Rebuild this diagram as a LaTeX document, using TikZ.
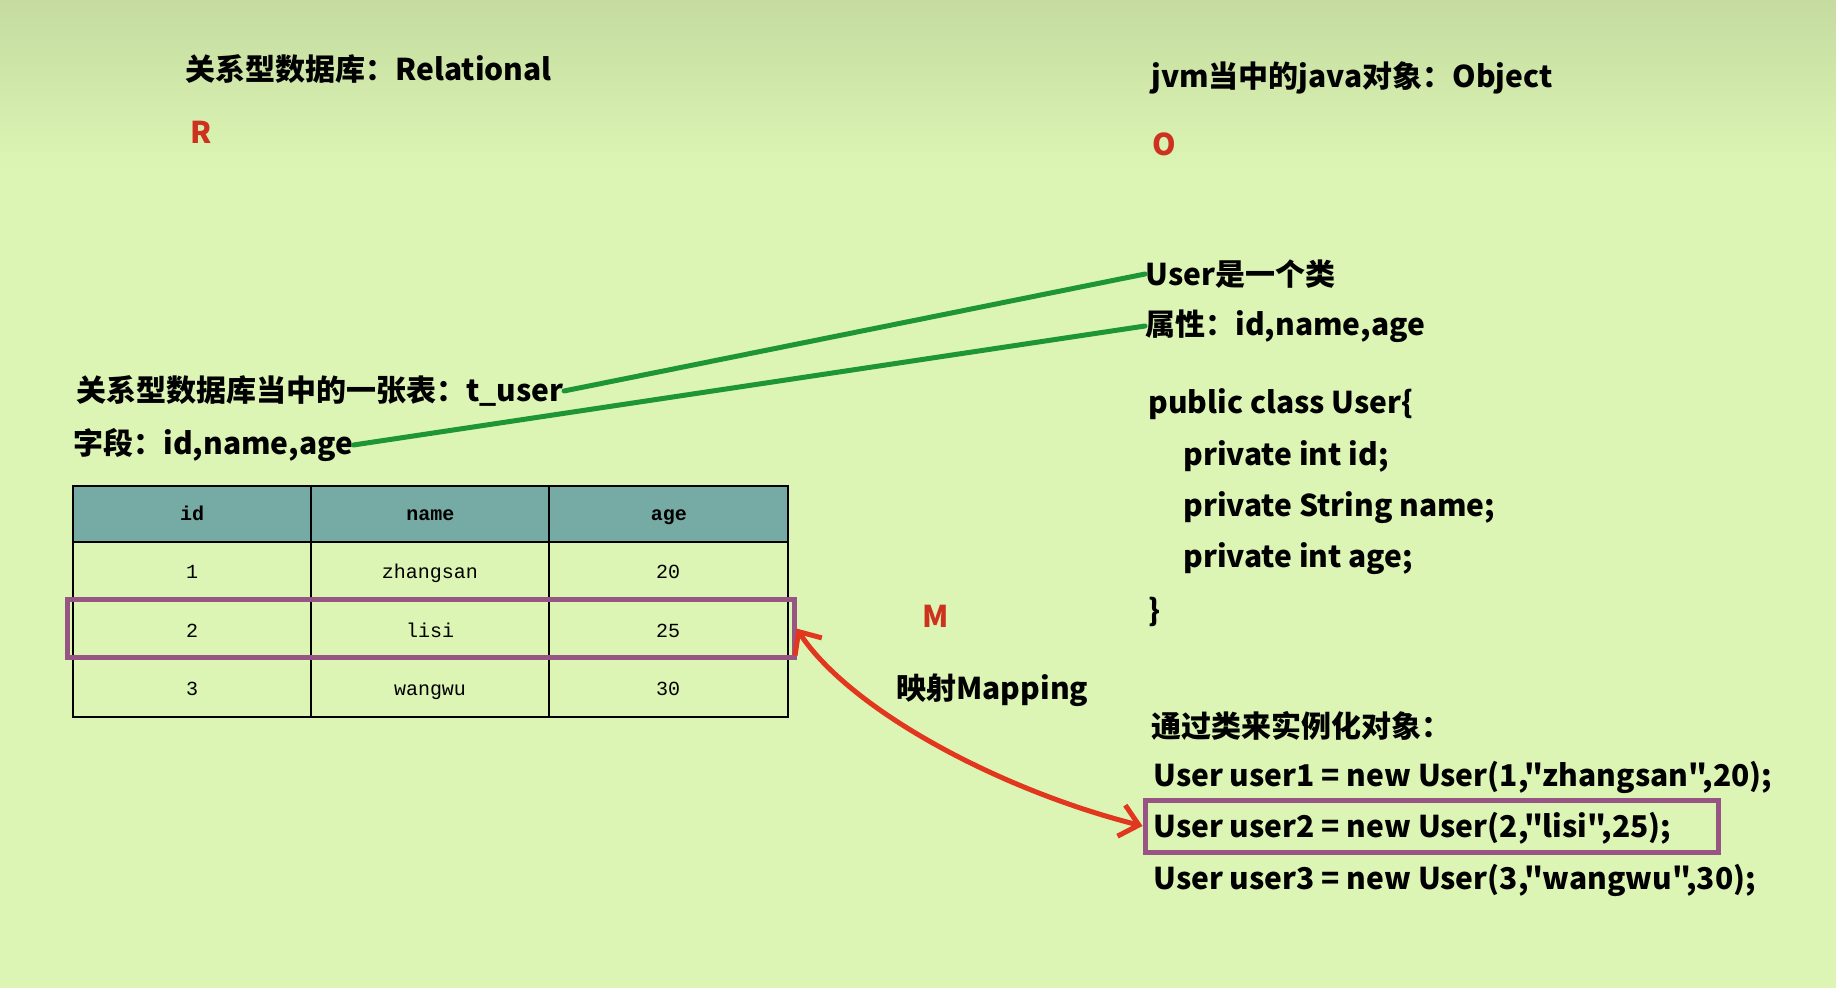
\documentclass[tikz,border=0pt]{standalone}
\usepackage{fontspec}
\newfontfamily\cjk{Noto Sans CJK SC}
\newfontfamily\tablefont{Liberation Mono}
\usetikzlibrary{positioning, arrows.meta, fit}

\definecolor{bgtop}{RGB}{197,219,160}
\definecolor{bgmain}{RGB}{220,245,180}
\definecolor{headfill}{RGB}{118,170,165}
\definecolor{linkgreen}{RGB}{30,150,55}
\definecolor{markred}{RGB}{205,50,30}
\definecolor{arrowred}{RGB}{225,55,30}
\definecolor{rowpink}{RGB}{150,85,130}

\begin{document}
\begin{tikzpicture}[x=0.5pt, y=-0.5pt,
    txt/.style={anchor=west, inner sep=0pt, font=\cjk\bfseries\fontsize{15}{18}\selectfont},
    letter/.style={txt, text=markred},
    cell/.style={inner sep=0pt, text height=7pt, text depth=2pt, font=\tablefont\fontsize{10}{12}\selectfont},
    headcell/.style={cell, font=\tablefont\bfseries\fontsize{10}{12}\selectfont},
    link/.style={draw=linkgreen, line width=2.5pt, line cap=round},
    hilite/.style={draw=rowpink, line width=2.5pt, inner sep=0pt}]

  % background, darker band at the top
  \useasboundingbox (0,0) rectangle (1836,988);
  \fill[bgmain] (0,0) rectangle (1836,988);
  \shade[top color=bgtop, bottom color=bgmain] (0,0) rectangle (1836,170);

  % the two headings with their letters
  \node (rel_title) [txt] at (185,69) {关系型数据库：Relational};
  \node (rel_r) [letter] at (190,132) {R};
  \node (obj_title) [txt] at (1151,78) {jvm当中的java对象：Object};
  \node (obj_o) [letter] at (1152,144) {O};

  % left side: the table and its fields
  \node (tuser) [txt] at (76,391) {关系型数据库当中的一张表：t\_user};
  \node (fields) [txt] at (73,445) {字段：id,name,age};

  % right side: the class
  \node (cls) [txt] at (1145,274) {User是一个类};
  \node (attrs) [txt] at (1145,326) {属性：id,name,age};
  \node (decl) [txt] at (1148,404) {public class User\{};
  \node (fid) [txt] at (1183,456) {private int id;};
  \node (fname) [txt] at (1183,508) {private String name;};
  \node (fage) [txt] at (1183,559) {private int age;};
  \node (close) [txt] at (1148,612) {\}};

  % green links table -> class
  \draw [link] (tuser.east) -- (cls.west);
  \draw [link] (fields.east) -- (attrs.west);

  % table grid
  \fill [headfill] (73,486) rectangle (788,542);
  \draw [line width=0.8pt] (73,486) rectangle (788,717);
  \foreach \y in {542,601,658} \draw [line width=0.6pt] (73,\y) -- (788,\y);
  \foreach \x in {311,549} \draw [line width=0.6pt] (\x,486) -- (\x,717);

  % table cells
  \foreach \col [count=\i] in {id,name,age}
    \node (head-\i) [headcell] at ({73+238.33*(\i-0.5)},516) {\col};
  \foreach \a/\b/\c [count=\r] in {1/zhangsan/20, 2/lisi/25, 3/wangwu/30} {
    \node (id-\r) [cell] at (192,{516+58*\r}) {\a};
    \node (name-\r) [cell] at (430,{516+58*\r}) {\b};
    \node (age-\r) [cell] at (668,{516+58*\r}) {\c};
  }

  % highlighted row
  \node (row2box) [hilite, minimum width=363.5pt, minimum height=28.5pt] at (430.5,628.5) {};

  % objects
  \node (inst) [txt] at (1151,726) {通过类来实例化对象：};
  \node (u1) [txt] at (1153,777) {User user1 = new User(1,"zhangsan",20);};
  \node (u2) [txt] at (1153,828) {User user2 = new User(2,"lisi",25);};
  \node (u3) [txt] at (1153,880) {User user3 = new User(3,"wangwu",30);};
  \node (u2box) [hilite, minimum width=286.5pt, minimum height=26pt] at (1431.5,826) {};

  % mapping
  \node (lab_m) [letter] at (922,616) {M};
  \node (mapping) [txt] at (896,690) {映射Mapping};
  \draw [arrowred, line width=2.5pt, {Straight Barb[length=9pt,width=16pt]}-{Straight Barb[length=9pt,width=16pt]}]
    (row2box.east) .. controls (850,710) and (1000,790) .. (u2box.west);

\end{tikzpicture}
\end{document}
